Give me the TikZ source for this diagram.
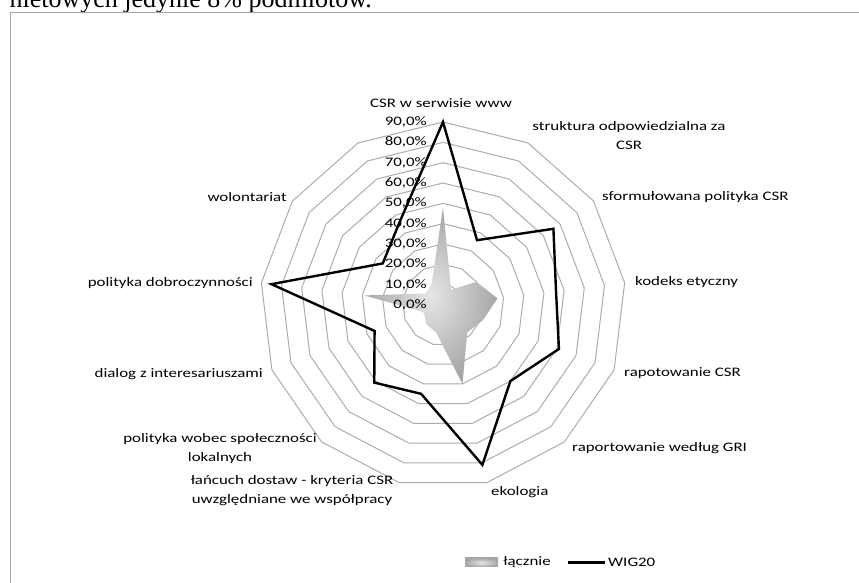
\documentclass[tikz,border=0pt]{standalone}
\usepackage{fontspec}
\setmainfont{Carlito}[FakeStretch=1.3]
\newfontfamily\bodyfont{Liberation Serif}
\usetikzlibrary{positioning}

\begin{document}
\begin{tikzpicture}[x=1pt,y=1pt,
  ring/.style={draw=gray!65,line width=1pt},
  cat label/.style={font=\fontsize{13}{19}\selectfont,inner sep=0pt,align=center},
  pct label/.style={font=\fontsize{13}{15}\selectfont,anchor=east,inner sep=0pt},
  wig line/.style={draw=black,line width=2.4pt,line join=miter},
  total area/.style={inner color=gray!20,outer color=gray!70}]

  \useasboundingbox (0,0) rectangle (859,583);
  % text of the page above the chart
  \node[font=\bodyfont\fontsize{26}{30}\selectfont,anchor=base east,inner sep=0pt] (intro) at (372,575) {nietowych jedynie 8\% podmiotów.};
  \draw[gray!70,line width=0.8pt] (10,0) -- (10,570.5) -- (859,570.5);

  \coordinate (c) at (443,278);
  \begin{scope}[shift={(c)}]
    % rings 10% ... 90%
    \foreach \k in {1,...,9}
      \draw[ring] (90:{\k*20.33}) \foreach \i in {1,...,12} { -- ({90-\i*360/13}:{\k*20.33}) } -- cycle;
    % series
    \foreach \v [count=\i from 0] in {48,8.5,20,27,21,18,40,14,12.5,10,39,10,12}
      \coordinate (t\i) at ({90-\i*360/13}:{\v*2.033});
    \foreach \v [count=\i from 0] in {90,36,66,56,61,50,81,45,51,36,85,36,46}
      \coordinate (w\i) at ({90-\i*360/13}:{\v*2.033});
  \end{scope}

  \shade[total area] (t0) -- (t1) -- (t2) -- (t3) -- (t4) -- (t5) -- (t6) -- (t7) -- (t8) -- (t9) -- (t10) -- (t11) -- (t12) -- cycle;

  \foreach \k in {0,...,9} {
    \pgfmathtruncatemacro\pc{10*\k}
    \node[pct label] (p\k) at (427,{278+\k*20.33}) {\pc,0\%};
  }

  \draw[wig line] (w0) -- (w1) -- (w2) -- (w3) -- (w4) -- (w5) -- (w6) -- (w7) -- (w8) -- (w9) -- (w10) -- (w11) -- (w12) -- cycle;

  % category labels
  \node[cat label] (www) at (441,480) {CSR w serwisie www};
  \node[cat label] (struktura) at (629,447) {struktura odpowiedzialna za\\CSR};
  \node[cat label,anchor=west] (polityka) at (602,386) {sformułowana polityka CSR};
  \node[cat label,anchor=west] (kodeks) at (635,301) {kodeks etyczny};
  \node[cat label,anchor=west] (raport) at (624,210) {rapotowanie CSR};
  \node[cat label,anchor=west] (gri) at (572,135) {raportowanie według GRI};
  \node[cat label,anchor=west] (eko) at (491,91) {ekologia};
  \node[cat label] (dostawy) at (292,92) {łańcuch dostaw - kryteria CSR\\uwzględniane we współpracy};
  \node[cat label] (lokalne) at (220,134) {polityka wobec społeczności\\lokalnych};
  \node[cat label,anchor=east] (dialog) at (263,209) {dialog z interesariuszami};
  \node[cat label,anchor=east] (dobro) at (253,300) {polityka dobroczynności};
  \node[cat label,anchor=east] (wolont) at (287,386) {wolontariat};

  % legend
  \node[shade,total area,minimum width=33pt,minimum height=9pt,inner sep=0pt] (lgbox) at (481.5,20.5) {};
  \node[cat label,right=5pt of lgbox] (lgtot) {łącznie};
  \coordinate (lgA) at (568,20.5);
  \coordinate (lgB) at (605,20.5);
  \draw[wig line] (lgA) -- (lgB);
  \node[cat label,right=3pt of lgB] (lgwig) {WIG20};
\end{tikzpicture}
\end{document}
